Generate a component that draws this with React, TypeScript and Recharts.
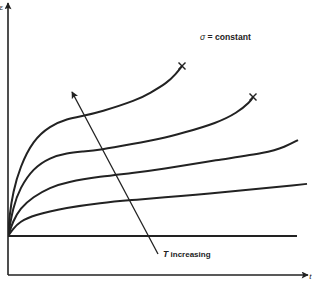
import React from 'react';
import { LineChart, Line, XAxis, YAxis, ReferenceLine, ReferenceDot } from 'recharts';

// time (t) and strain (e) in arbitrary units
const curve1 = [
  { t: 0, e: 14.3 }, { t: 0.5, e: 22.0 }, { t: 1.67, e: 30.5 }, { t: 4, e: 39.7 },
  { t: 8.33, e: 49.5 }, { t: 14, e: 54.8 }, { t: 19.67, e: 57.4 }, { t: 25, e: 58.5 },
  { t: 30.67, e: 59.9 }, { t: 43, e: 64.3 }, { t: 47.33, e: 66.9 }, { t: 53, e: 70.6 },
  { t: 56, e: 73.9 }, { t: 58, e: 76.8 },
];
const curve2 = [
  { t: 0, e: 14.3 }, { t: 1.67, e: 25.0 }, { t: 4, e: 32.0 }, { t: 8.33, e: 39.2 },
  { t: 14, e: 43.2 }, { t: 19.67, e: 44.9 }, { t: 25, e: 45.4 }, { t: 30.67, e: 46.0 },
  { t: 41.67, e: 48.2 }, { t: 50.67, e: 50.0 }, { t: 58.33, e: 52.2 }, { t: 69.67, e: 55.9 },
  { t: 76.33, e: 59.6 }, { t: 80.67, e: 63.6 }, { t: 81.67, e: 65.4 },
];
const curve3 = [
  { t: 0, e: 14.3 }, { t: 1.67, e: 19.8 }, { t: 4, e: 24.5 }, { t: 8.33, e: 28.7 },
  { t: 14, e: 32.2 }, { t: 19.67, e: 34.2 }, { t: 30.67, e: 36.2 }, { t: 41.67, e: 37.5 },
  { t: 50.67, e: 38.8 }, { t: 69.67, e: 42.3 }, { t: 86.33, e: 44.9 }, { t: 92.33, e: 47.1 },
  { t: 96.67, e: 49.6 },
];
const curve4 = [
  { t: 0, e: 14.3 }, { t: 1.67, e: 17.0 }, { t: 4, e: 19.6 }, { t: 8.33, e: 22.0 },
  { t: 19.67, e: 24.8 }, { t: 30.67, e: 26.5 }, { t: 41.67, e: 27.6 }, { t: 50.67, e: 28.4 },
  { t: 69.67, e: 30.1 }, { t: 99.67, e: 33.5 },
];
const baseline = [{ t: 0, e: 14.3 }, { t: 96.33, e: 14.3 }];
const tArrow = [{ t: 50, e: 7.7 }, { t: 21.33, e: 67.3 }];

const sigmaLabel = 'σ = constant';
const sigmaPos = { t: 64, e: 86.4 };
const tLabel = 'increasing';
const tLabelPos = { t: 51.7, e: 6.6 };
const yAxisLabel = 'ε';
const yAxisLabelPos = { t: -2.8, e: 97.5 };
const xAxisLabel = 't';
const xAxisLabelPos = { t: 100.4, e: -1.5 };

const INK = '#222';

const XMark = (props: any) => {
  const { cx, cy, index } = props;
  const n = props.dataLen;
  if (index !== n - 1 || cx == null) return <g key={`d${index}`} />;
  const s = 3.5;
  return (
    <g key={`d${index}`} stroke={INK} strokeWidth={1.4}>
      <line x1={cx - s} y1={cy - s} x2={cx + s} y2={cy + s} />
      <line x1={cx - s} y1={cy + s} x2={cx + s} y2={cy - s} />
    </g>
  );
};

const FONT = 'Liberation Sans, Arial, sans-serif';

const plainLabel = (txt: string, size: number) => (p: any) => (
  <text x={p.viewBox.x} y={p.viewBox.y} fontSize={size} fontFamily={FONT} fill={INK} fontStyle="italic">{txt}</text>
);

export default function App() {
  return (
    <div style={{ position: 'absolute', left: 0, top: 0, background: '#fff' }}>
      <svg width={0} height={0} style={{ position: 'absolute' }}>
        <defs>
          <marker id="arrowHead" viewBox="0 0 10 10" refX="9" refY="5" markerWidth="10" markerHeight="7"
            markerUnits="userSpaceOnUse" orient="auto">
            <path d="M0,0 L10,5 L0,10 L2,5 Z" fill={INK} />
          </marker>
        </defs>
      </svg>
      <LineChart width={312} height={281} margin={{ top: 3, right: 4, bottom: 6, left: 8 }}>
        <XAxis type="number" dataKey="t" domain={[0, 100]} hide allowDataOverflow />
        <YAxis type="number" dataKey="e" domain={[0, 100]} hide allowDataOverflow />
        <ReferenceLine segment={[{ x: 0, y: 0 }, { x: 0, y: 100 }]} stroke={INK} strokeWidth={1.6}
          markerEnd="url(#arrowHead)" ifOverflow="visible" />
        <ReferenceLine segment={[{ x: 0, y: 0 }, { x: 100, y: 0 }]} stroke={INK} strokeWidth={1.6}
          markerEnd="url(#arrowHead)" ifOverflow="visible" />
        <Line data={baseline} dataKey="e" type="linear" stroke={INK} strokeWidth={2} dot={false} isAnimationActive={false} />
        <Line data={curve4} dataKey="e" type="basis" stroke={INK} strokeWidth={2} dot={false} isAnimationActive={false} />
        <Line data={curve3} dataKey="e" type="basis" stroke={INK} strokeWidth={2} dot={false} isAnimationActive={false} />
        <Line data={curve2} dataKey="e" type="basis" stroke={INK} strokeWidth={2}
          dot={(p: any) => <XMark {...p} dataLen={curve2.length} />} isAnimationActive={false} />
        <Line data={curve1} dataKey="e" type="basis" stroke={INK} strokeWidth={2}
          dot={(p: any) => <XMark {...p} dataLen={curve1.length} />} isAnimationActive={false} />
        <Line data={tArrow} dataKey="e" type="linear" stroke={INK} strokeWidth={1.3} dot={false}
          markerEnd="url(#arrowHead)" isAnimationActive={false} />
        <ReferenceDot x={sigmaPos.t} y={sigmaPos.e} r={0} ifOverflow="visible"
          label={(p: any) => (
            <text x={p.viewBox.x} y={p.viewBox.y} fontSize={8.6} fontFamily={FONT} fill={INK} fontWeight={600}>
              <tspan fontStyle="italic" fontWeight={400}>σ</tspan>{sigmaLabel.slice(1)}
            </text>
          )} />
        <ReferenceDot x={tLabelPos.t} y={tLabelPos.e} r={0} ifOverflow="visible"
          label={(p: any) => (
            <text x={p.viewBox.x} y={p.viewBox.y} fontSize={8} fontFamily={FONT} fill={INK} fontWeight={600}>
              <tspan fontStyle="italic" fontSize={8.5}>T</tspan>{'  ' + tLabel}
            </text>
          )} />
        <ReferenceDot x={yAxisLabelPos.t} y={yAxisLabelPos.e} r={0} ifOverflow="visible"
          label={plainLabel(yAxisLabel, 8)} />
        <ReferenceDot x={xAxisLabelPos.t} y={xAxisLabelPos.e} r={0} ifOverflow="visible"
          label={plainLabel(xAxisLabel, 8)} />
      </LineChart>
    </div>
  );
}
